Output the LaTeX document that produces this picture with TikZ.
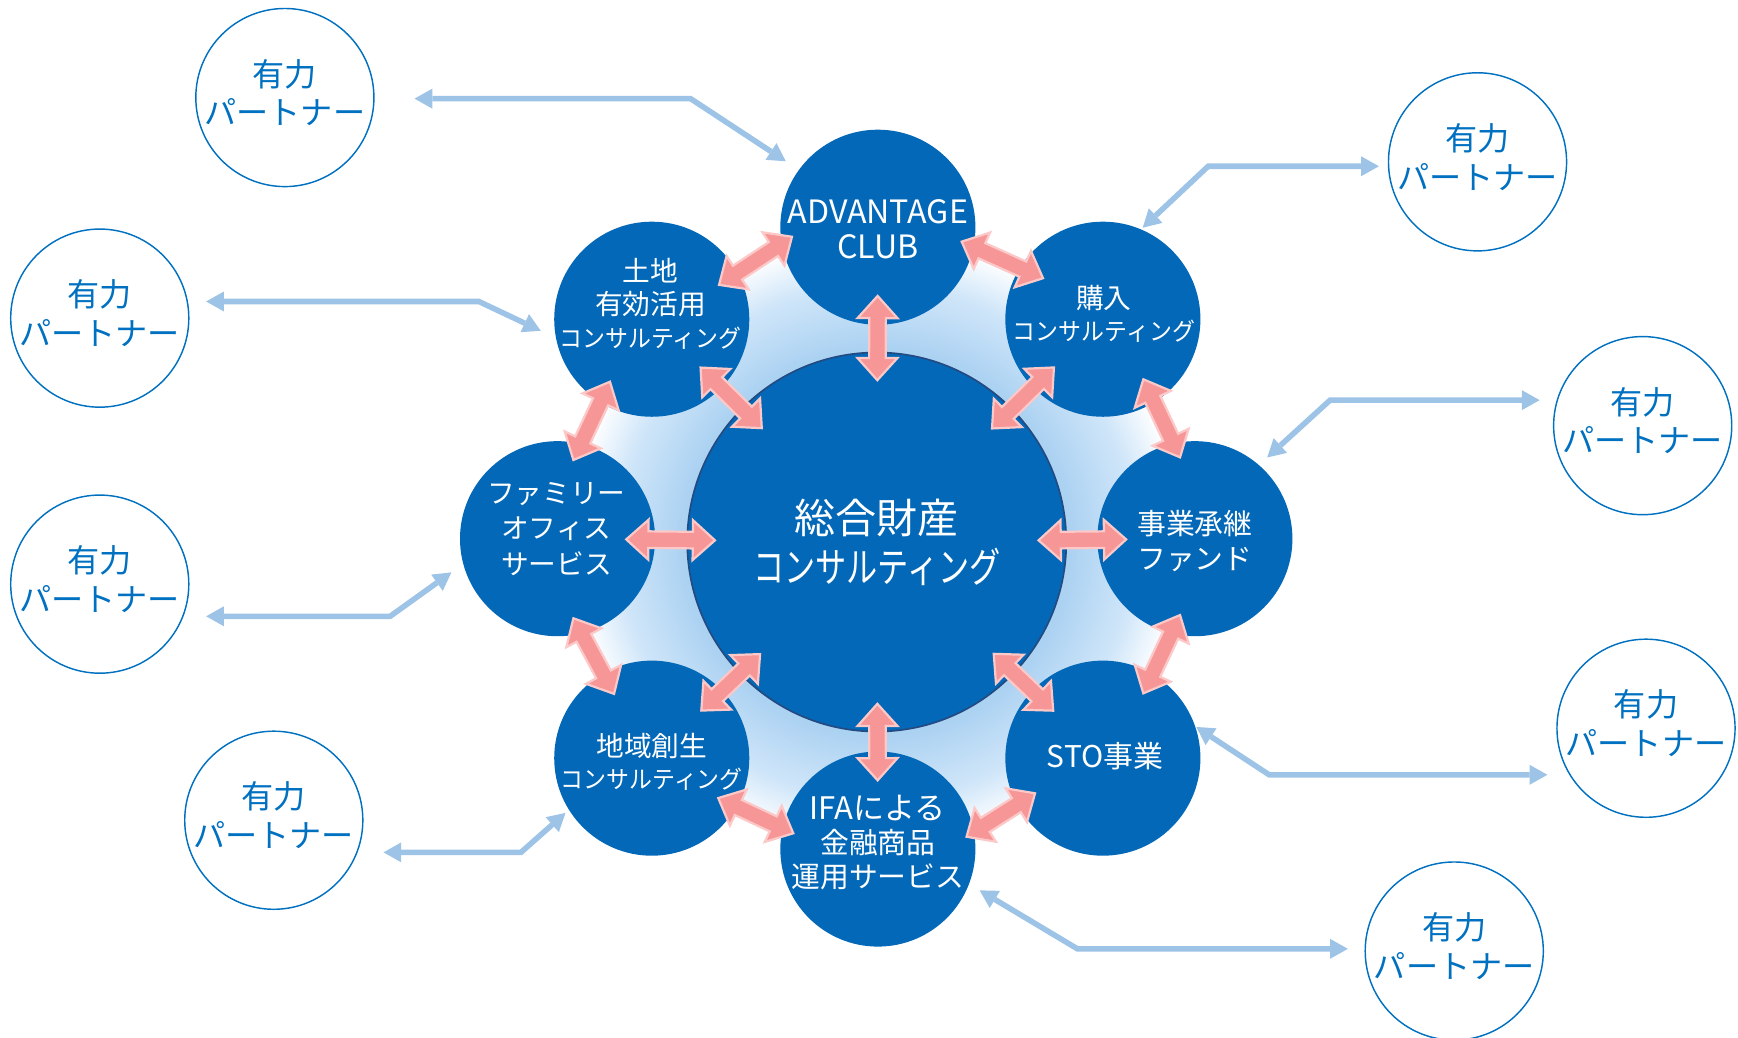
\documentclass[tikz,border=0pt]{standalone}
\usepackage{fontspec}
\usepackage{graphicx}
\usetikzlibrary{calc,arrows.meta}
\newfontfamily\jp{Noto Sans CJK JP}
\definecolor{satblue}{RGB}{3,104,183}
\definecolor{ptblue}{RGB}{0,112,192}
\definecolor{lbline}{RGB}{157,195,230}
\definecolor{pinkfill}{RGB}{247,150,150}
\definecolor{pinkedge}{RGB}{252,200,200}
\definecolor{webA}{RGB}{172,210,242}
\definecolor{webB}{RGB}{208,230,249}
\definecolor{ctredge}{RGB}{35,75,130}
\pgfdeclareradialshading{webshade}{\pgfpoint{0bp}{0bp}}{color(0bp)=(webA); color(15bp)=(webA); color(20bp)=(webB); color(23.5bp)=(white); color(50bp)=(white)}
\tikzset{
  satnode/.style={circle, fill=satblue, minimum size=176pt, inner sep=0pt},
  stxt/.style={text=white, align=center, inner sep=0pt, font=\jp\fontsize{25}{31}\selectfont},
  partner/.style={circle, draw=ptblue, line width=1.3pt, minimum size=160pt, inner sep=0pt,
    text depth=10pt, text=ptblue, align=center, font=\jp\fontsize{29}{35}\selectfont},
  lbarrow/.style={draw=lbline, line width=5pt,
    {Triangle[width=18pt,length=16pt,line width=0pt]}-{Triangle[width=18pt,length=16pt,line width=0pt]}},
  pinkblock/.style={fill=pinkfill, draw=pinkedge, line width=2pt, line join=miter},
}
\newcommand\konsa{\scalebox{0.94}[1]{\fontsize{22}{28}\selectfont コンサルティング}}
\newcommand\pinkarr[2]{%
  \filldraw[pinkblock] let \p1=(#1), \p2=(#2), \n1={atan2(\y2-\y1,\x2-\x1)} in
    (\p1) -- ($(\p1)+(\n1:20pt)+(\n1+90:18pt)$) -- ($(\p1)+(\n1:20pt)+(\n1+90:7.5pt)$)
    -- ($(\p2)+(\n1+180:20pt)+(\n1+90:7.5pt)$) -- ($(\p2)+(\n1+180:20pt)+(\n1+90:18pt)$)
    -- (\p2) -- ($(\p2)+(\n1+180:20pt)+(\n1-90:18pt)$) -- ($(\p2)+(\n1+180:20pt)+(\n1-90:7.5pt)$)
    -- ($(\p1)+(\n1:20pt)+(\n1-90:7.5pt)$) -- ($(\p1)+(\n1:20pt)+(\n1-90:18pt)$) -- cycle;}
\begin{document}
\begin{tikzpicture}[x=1pt,y=1pt]
\useasboundingbox (0,0) rectangle (1568,-936);
% light blue web
\shade[shading=webshade] (791,-489) circle (292);
% centre and satellites
\node[circle, fill=satblue, draw=ctredge, line width=1.5pt, minimum size=342pt, inner sep=0pt] (ctr) at (791,-489) {};
\node[satnode] (adv) at (792,-205) {};
\node[satnode] (buy) at (995,-288) {};
\node[satnode] (jig) at (1078,-486) {};
\node[satnode] (sto) at (995,-684) {};
\node[satnode] (ifa) at (792,-766) {};
\node[satnode] (chiiki) at (588,-684) {};
\node[satnode] (fam) at (503,-486) {};
\node[satnode] (tochi) at (588,-288) {};
% texts
\node[stxt, font=\jp\fontsize{37}{44}\selectfont] (ctrt) at (ctr) {総合財産\\\scalebox{0.76}[1]{コンサルティング}};
\node[stxt, font=\jp\fontsize{29}{32}\selectfont] (advt) at ($(adv)+(0,-2)$) {ADVANTAGE\\CLUB};
\node[stxt, font=\jp\fontsize{25}{30}\selectfont] (tochit) at ($(tochi)+(-1,14)$) {土地\\有効活用\\\konsa};
\node[stxt, font=\jp\fontsize{25}{29}\selectfont] (buyt) at ($(buy)+(1,5)$) {購入\\\konsa};
\node[stxt, font=\jp\fontsize{25}{32}\selectfont] (famt) at ($(fam)+(-1,9)$) {ファミリー\\オフィス\\サービス};
\node[stxt, font=\jp\fontsize{26}{31}\selectfont] (jigt) at ($(jig)+(0,-2)$) {事業承継\\ファンド};
\node[stxt, font=\jp\fontsize{27}{31}\selectfont] (stot) at ($(sto)+(2,2)$) {STO事業};
\node[stxt, font=\jp\fontsize{25}{29}\selectfont] (chiikit) at ($(chiiki)+(0,-3)$) {地域創生\\\konsa};
\node[stxt, font=\jp\fontsize{26}{31}\selectfont] (ifat) at ($(ifa)+(0,6)$) {{\fontsize{28}{31}\selectfont IFAによる}\\金融商品\\運用サービス};
% pink arrows: centre <-> satellites
\foreach \s in {adv,buy,jig,sto,ifa,chiiki,fam,tochi}{
  \pinkarr{$(\s)!62pt!(ctr)$}{$(ctr)!146pt!(\s)$}
}
% pink arrows: neighbours
\pinkarr{$(adv)+(-77.5,-8.6)$}{$(tochi)+(60.7,31)$}
\pinkarr{$(adv)+(75.6,-13)$}{$(buy)+(-54,37)$}
\pinkarr{$(buy)+(36.5,-54.2)$}{$(jig)+(-13.4,73.4)$}
\pinkarr{$(jig)+(-13.4,-68.9)$}{$(sto)+(36.5,58.5)$}
\pinkarr{$(sto)+(-61.2,-31.7)$}{$(ifa)+(80,11.1)$}
\pinkarr{$(ifa)+(-76.3,14.2)$}{$(chiiki)+(60,-36)$}
\pinkarr{$(chiiki)+(-34,58)$}{$(fam)+(14.3,-71.8)$}
\pinkarr{$(fam)+(14.3,71)$}{$(tochi)+(-37.7,-56.4)$}
% partners
\node[partner] (p1) at (257,-88) {有力\\パートナー};
\node[partner] (p2) at (1333,-146) {有力\\パートナー};
\node[partner] (p3) at (90,-287) {有力\\パートナー};
\node[partner] (p4) at (1482,-384) {有力\\パートナー};
\node[partner] (p5) at (90,-527) {有力\\パートナー};
\node[partner] (p6) at (1485,-657) {有力\\パートナー};
\node[partner] (p7) at (247,-740) {有力\\パートナー};
\node[partner] (p8) at (1312,-858) {有力\\パートナー};
% light blue connectors
\coordinate (k1) at (623,-89);
\coordinate (k2) at (1090,-150);
\coordinate (k3) at (432,-272);
\coordinate (k4) at (1200,-361);
\coordinate (k5) at (352,-556);
\coordinate (k6) at (1145,-699);
\coordinate (k7) at (470,-769);
\coordinate (k8) at (972,-856);
\draw[lbarrow, shorten <=14pt, shorten >=36pt] (adv.144) -- (k1) -- (k1 -| p1.east);
\draw[lbarrow, shorten <=2pt, shorten >=8pt] (buy.67) -- (k2) -- (k2 -| p2.west);
\draw[lbarrow, shorten <=15pt, shorten >=15pt] (tochi.191) -- (k3) -- (k3 -| p3.east);
\draw[lbarrow, shorten <=10pt, shorten >=12pt] (jig.49) -- (k4) -- (k4 -| p4.west);
\draw[lbarrow, shorten <=13pt, shorten >=15pt] (fam.195) -- (k5) -- (k5 -| p5.east);
\draw[lbarrow, shorten <=1pt, shorten >=8pt] (sto.19.5) -- (k6) -- (k6 -| p6.west);
\draw[lbarrow, shorten <=4pt, shorten >=18pt] (chiiki.212) -- (k7) -- (k7 -| p7.east);
\draw[lbarrow, shorten <=11pt, shorten >=15pt] (ifa.-21) -- (k8) -- (k8 -| p8.west);
\end{tikzpicture}
\end{document}
